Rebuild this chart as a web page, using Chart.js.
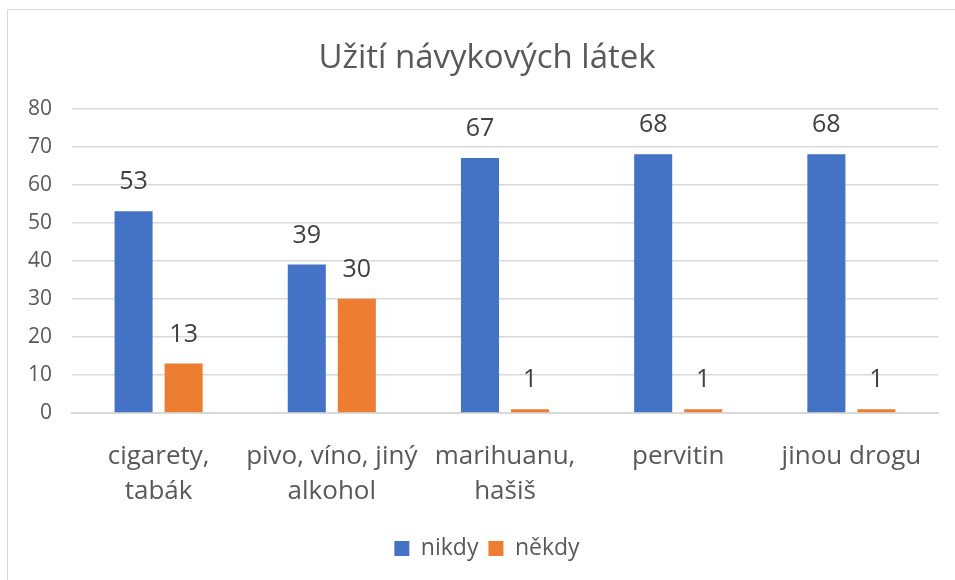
<!DOCTYPE html>
<html>
<head>
<meta charset="utf-8">
<script src="https://cdn.jsdelivr.net/npm/chart.js@4/dist/chart.umd.min.js"></script>
<style>
  html, body { margin: 0; padding: 0; background: #fff; overflow: hidden; width: 955px; height: 580px; }
  #frame { position: absolute; left: 7px; top: 9px; width: 1000px; height: 700px; border: 1px solid #d9d9d9; }
  #wrap { position: absolute; left: 0; top: 0; width: 974px; height: 580px; }
</style>
</head>
<body>
<div id="frame"></div>
<div id="wrap"><canvas id="graf" width="974" height="580"></canvas></div>
<script>
const kategorie = [['cigarety,', 'tabák'], ['pivo, víno, jiný', 'alkohol'], ['marihuanu,', 'hašiš'], 'pervitin', 'jinou drogu'];
const nikdy = [53, 39, 67, 68, 68];
const nekdy = [13, 30, 1, 1, 1];
const osaY = { min: 0, max: 80, krok: 10 };

const FONT = '"Open Sans", Lato, sans-serif';
const SEDA = '#595959';

// popisky hodnot nad sloupci
const popisky = {
  id: 'popisky',
  afterDatasetsDraw(chart) {
    const ctx = chart.ctx;
    ctx.save();
    ctx.font = '25px ' + FONT;
    ctx.fillStyle = '#404040';
    ctx.textAlign = 'center';
    ctx.textBaseline = 'middle';
    chart.data.datasets.forEach((ds, i) => {
      chart.getDatasetMeta(i).data.forEach((bar, j) => {
        ctx.fillText(ds.data[j], bar.x, bar.y - 29);
      });
    });
    ctx.restore();
  }
};

new Chart(document.getElementById('graf'), {
  type: 'bar',
  data: {
    labels: kategorie,
    datasets: [
      { label: 'nikdy', data: nikdy, backgroundColor: '#4472C4' },
      { label: 'někdy', data: nekdy, backgroundColor: '#ED7D31' }
    ]
  },
  options: {
    responsive: false,
    animation: false,
    devicePixelRatio: 1,
    layout: { padding: { top: 0, left: 0, right: 0, bottom: 10 } },
    datasets: { bar: { categoryPercentage: 0.578, barPercentage: 0.76 } },
    plugins: {
      title: {
        display: true,
        text: 'Užití návykových látek',
        color: SEDA,
        font: { family: FONT, size: 33, weight: 'normal' },
        padding: { top: 39, bottom: 30 }
      },
      legend: {
        position: 'bottom',
        labels: {
          color: SEDA,
          font: { family: FONT, size: 23 },
          boxWidth: 15,
          boxHeight: 15,
          padding: 10
        }
      },
      tooltip: { enabled: false }
    },
    scales: {
      x: {
        grid: { display: false },
        border: { color: '#d9d9d9', width: 2 },
        ticks: { color: SEDA, font: { family: FONT, size: 26, lineHeight: 1.35 }, maxRotation: 0, autoSkip: false, padding: 18 },
        afterFit(s) { s.height = 114; }
      },
      y: {
        min: osaY.min,
        max: osaY.max,
        grid: { color: '#d9d9d9', lineWidth: 1.5, drawTicks: false },
        border: { display: false },
        ticks: { stepSize: osaY.krok, color: SEDA, font: { family: FONT, size: 21 }, padding: 20 },
        afterFit(s) { s.width = 72; }
      },
      // prázdná osa vpravo: rámeček grafu přesahuje okno, nadpis je vystředěn na něj
      okraj: {
        type: 'linear',
        position: 'right',
        grid: { display: false },
        border: { display: false },
        ticks: { display: false },
        afterFit(s) { s.width = 36; }
      }
    }
  },
  plugins: [popisky]
});
</script>
</body>
</html>
